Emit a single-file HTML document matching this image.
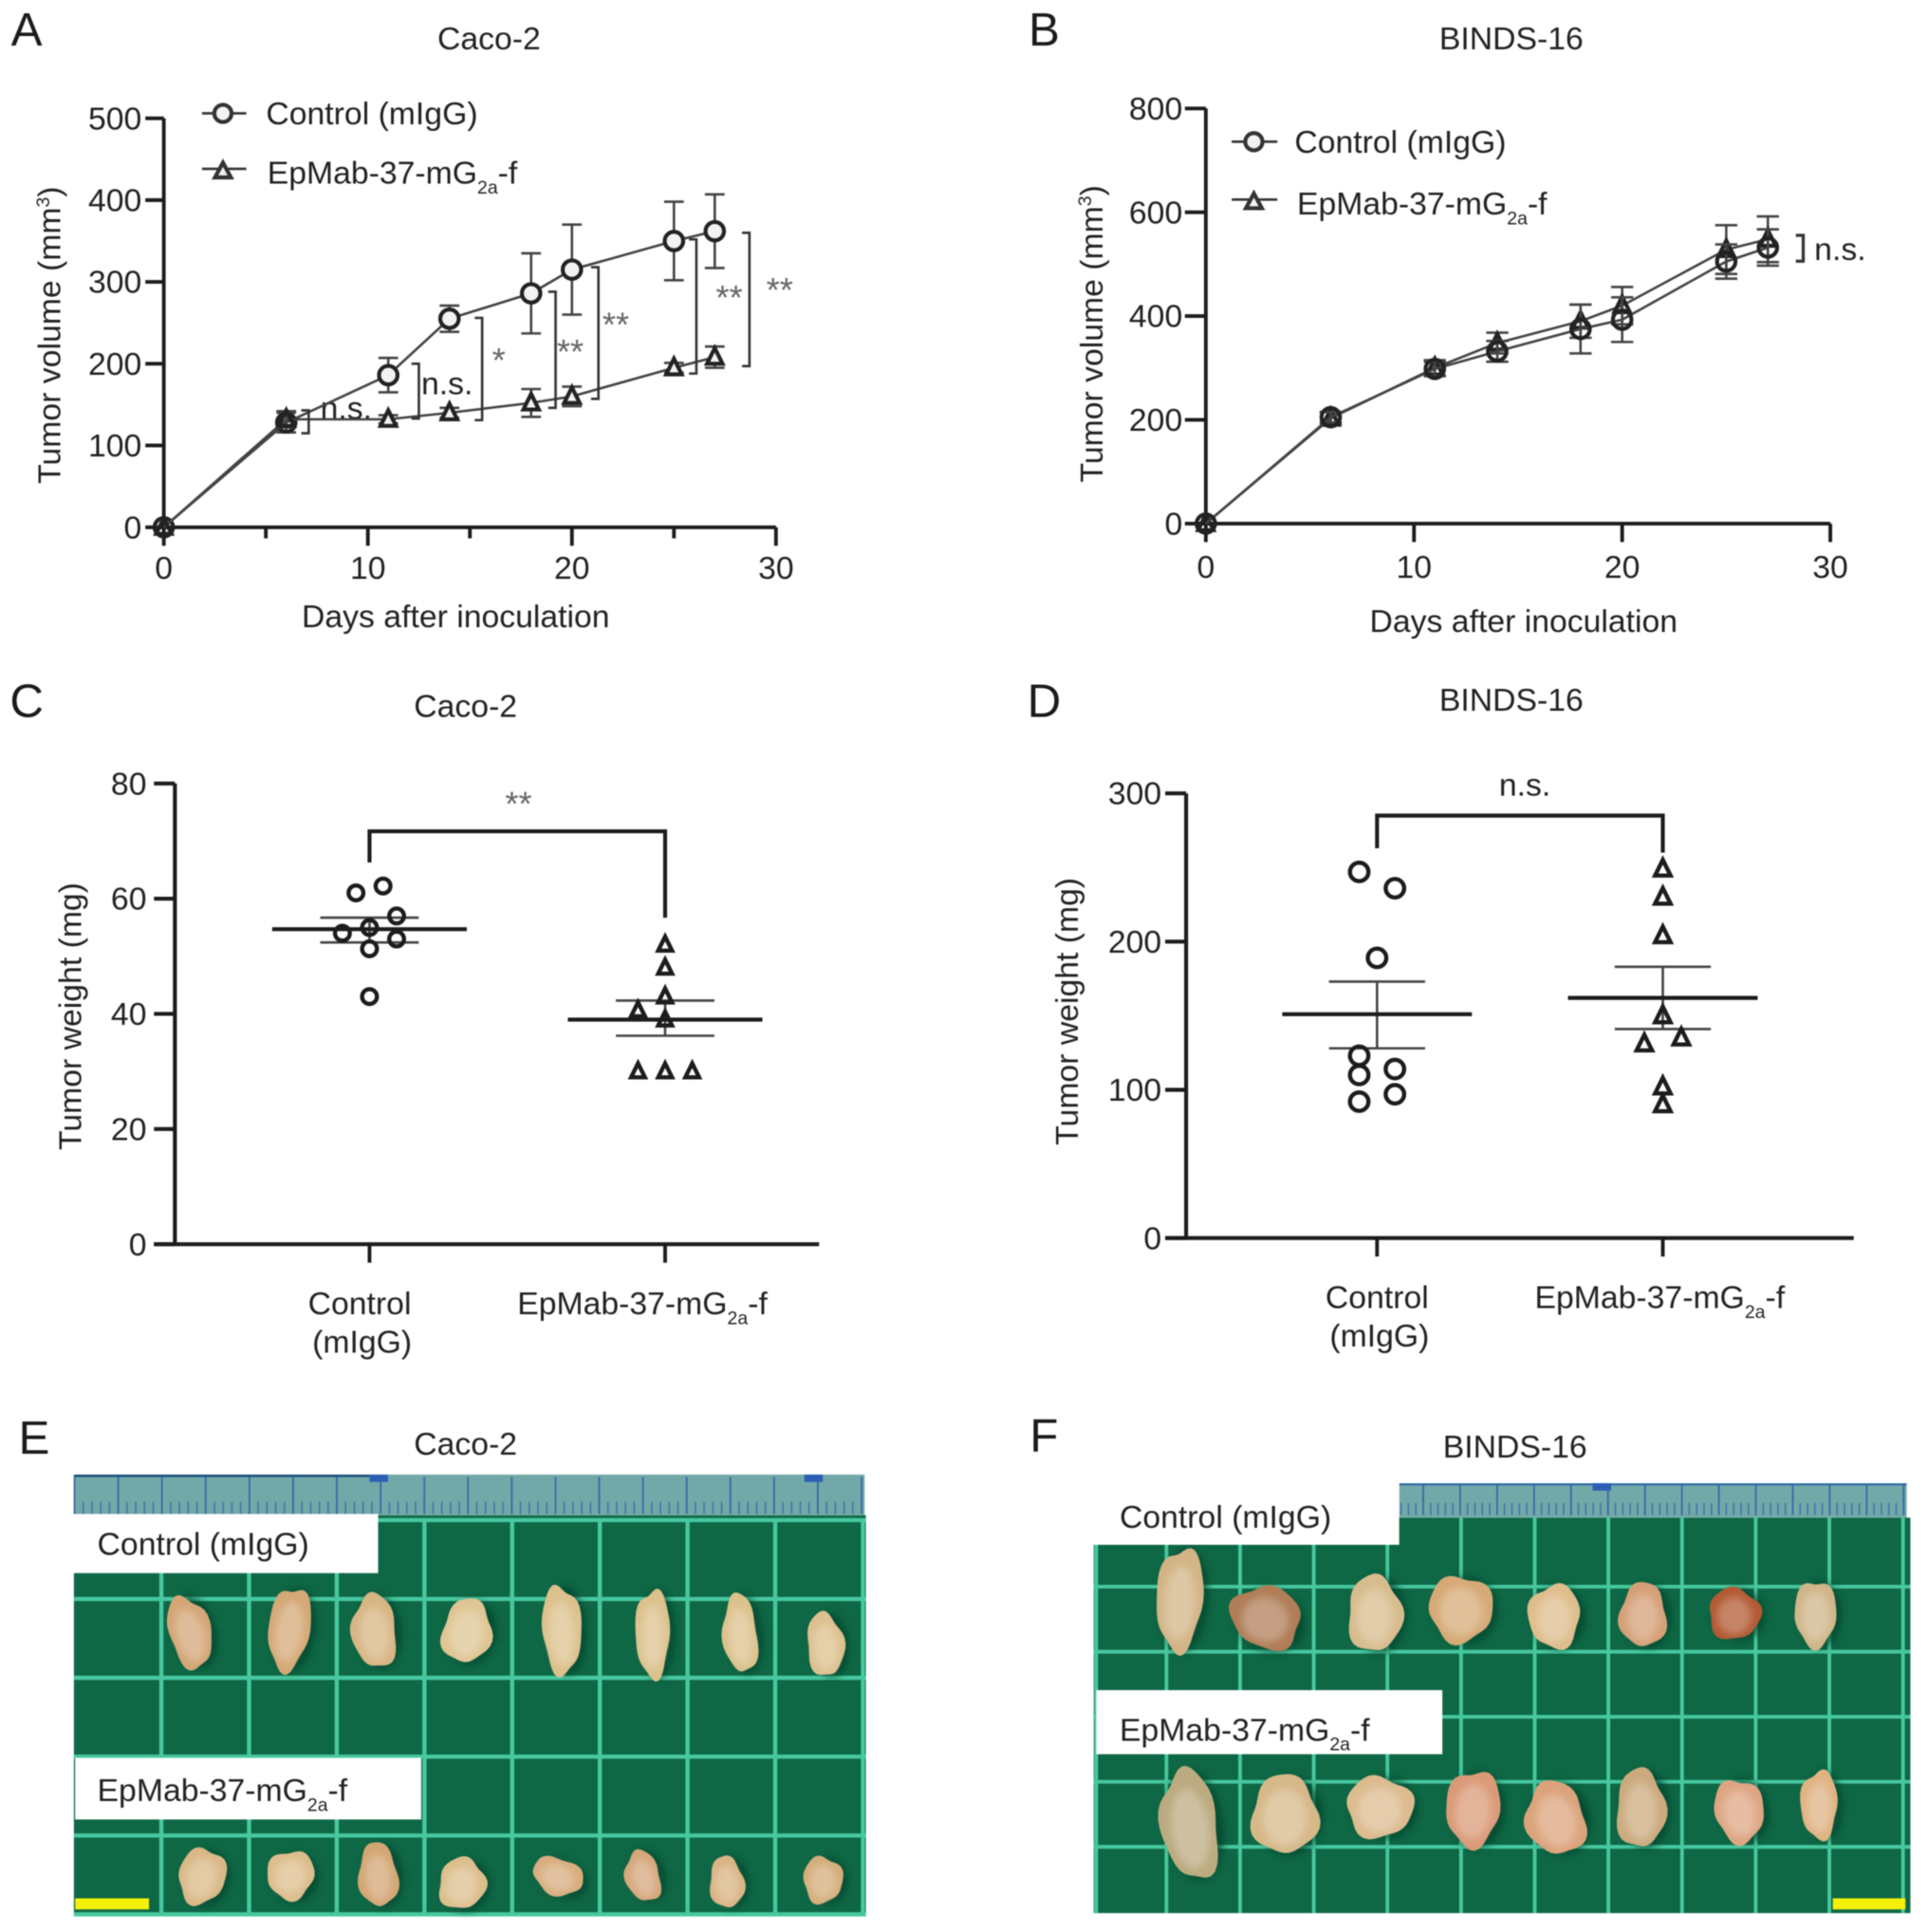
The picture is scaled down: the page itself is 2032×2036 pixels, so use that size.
<!DOCTYPE html>
<html lang="en">
<head>
<meta charset="utf-8">
<title>Tumor volume and weight figure</title>
<style>
html,body{margin:0;padding:0;background:#fff;}
svg{display:block;filter:blur(0.6px);}
text{font-family:"Liberation Sans",sans-serif;font-size:26px;fill:#222;}
.letter{font-size:38px;fill:#1a1a1a;}
.star{font-size:28px;fill:#666;text-anchor:middle;}
.mid{text-anchor:middle;}
</style>
</head>
<body>
<svg id="figure" xmlns="http://www.w3.org/2000/svg" width="2032" height="2036" viewBox="0 0 1565.3 1568.3">
<defs><filter id="soft" x="-50%" y="-50%" width="200%" height="200%"><feGaussianBlur stdDeviation="3"/></filter></defs>
<rect width="1566" height="1569" fill="#fff"/>

<g id="panel-a">
  <text class="letter" x="9" y="37">A</text>
  <text class="mid" x="397" y="40">Caco-2</text>
  <text class="mid" transform="rotate(-90 49 272)" x="49" y="272">Tumor volume (mm<tspan font-size="15" dy="-9">3</tspan><tspan dy="9">)</tspan></text>
  <text class="mid" x="370" y="509">Days after inoculation</text>
  <g fill="none" stroke="#333">
    <path d="M164 92H200" stroke-width="2"/>
    <circle cx="181" cy="92" r="7" stroke-width="3.2" fill="#f2f2f2"/>
    <path d="M164 137H200" stroke-width="2"/>
    <path d="M181 132L187.500 144H174.500Z" stroke-width="3.2" fill="#f2f2f2"/>
  </g>
  <text x="216" y="101">Control (mIgG)</text>
  <text x="217" y="149">EpMab-37-mG<tspan font-size="15" dy="8">2a</tspan><tspan dy="-8">-f</tspan></text>
  <text class="mid" x="281" y="340">n.s.</text>
  <text class="mid" x="363" y="320">n.s.</text>
  <text class="star" x="405" y="302">*</text>
  <text class="star" x="463" y="295">**</text>
  <text class="star" x="500" y="273">**</text>
  <text class="star" x="592" y="251">**</text>
  <text class="star" x="633" y="245">**</text>
</g>

<g id="panel-b">
  <text class="letter" x="835" y="37">B</text>
  <text class="mid" x="1227" y="40">BINDS-16</text>
  <text class="mid" transform="rotate(-90 895 271)" x="895" y="271">Tumor volume (mm<tspan font-size="15" dy="-9">3</tspan><tspan dy="9">)</tspan></text>
  <text class="mid" x="1237" y="513">Days after inoculation</text>
  <g fill="none" stroke="#333">
    <path d="M1000 115H1037" stroke-width="2"/>
    <circle cx="1018" cy="115" r="7" stroke-width="3.2" fill="#f2f2f2"/>
    <path d="M1000 162H1037" stroke-width="2"/>
    <path d="M1018 157L1024.500 169H1011.500Z" stroke-width="3.2" fill="#f2f2f2"/>
  </g>
  <text x="1051" y="124">Control (mIgG)</text>
  <text x="1053" y="174">EpMab-37-mG<tspan font-size="15" dy="8">2a</tspan><tspan dy="-8">-f</tspan></text>
  <path d="M1458 191H1464V212H1458" fill="none" stroke="#333" stroke-width="2.5"/>
  <text x="1473" y="211">n.s.</text>
</g>

<g id="panel-c">
  <text class="letter" x="8" y="582">C</text>
  <text class="mid" x="378" y="582">Caco-2</text>
  <text class="mid" transform="rotate(-90 66 825)" x="66" y="825">Tumor weight (mg)</text>
  <text class="star" x="421" y="662">**</text>
  <text class="mid" x="292" y="1067">Control</text>
  <text class="mid" x="294" y="1098">(mIgG)</text>
  <text x="420" y="1067">EpMab-37-mG<tspan font-size="15" dy="8">2a</tspan><tspan dy="-8">-f</tspan></text>
</g>

<g id="panel-d">
  <text class="letter" x="834" y="582">D</text>
  <text class="mid" x="1227" y="577">BINDS-16</text>
  <text class="mid" transform="rotate(-90 875 821)" x="875" y="821">Tumor weight (mg)</text>
  <text class="mid" x="1238" y="646">n.s.</text>
  <text class="mid" x="1118" y="1062">Control</text>
  <text class="mid" x="1120" y="1093">(mIgG)</text>
  <text x="1246" y="1062">EpMab-37-mG<tspan font-size="15" dy="8">2a</tspan><tspan dy="-8">-f</tspan></text>
</g>

<g id="panel-e">
  <text class="letter" x="15" y="1180">E</text>
  <text class="mid" x="378" y="1181">Caco-2</text>
  <rect x="60" y="1230" width="643" height="325" fill="#0e6745"/>
  <rect x="60" y="1197" width="642" height="33" fill="#72a9a8"/>
  <path d="M60 1198H300" stroke="#1d4f7a" stroke-width="2"/>
  <rect x="300" y="1197" width="15" height="6" fill="#2a5fb5"/>
  <rect x="653" y="1197" width="15" height="6" fill="#2a5fb5"/>
  <g id="grid-e" stroke="#47c8a0" stroke-width="3.4" fill="none"></g>
  <g id="ruler-e" stroke="#2f63a8" stroke-width="1.4" fill="none"></g>
  <g id="tumors-e"></g>
  <rect x="58" y="1229" width="249" height="48" fill="#fff"/>
  <text x="79" y="1262">Control (mIgG)</text>
  <rect x="61" y="1427" width="281" height="50" fill="#fff"/>
  <text x="79" y="1462">EpMab-37-mG<tspan font-size="15" dy="8">2a</tspan><tspan dy="-8">-f</tspan></text>
  <rect x="61" y="1541" width="60" height="9" fill="#f4f00a"/>
</g>

<g id="panel-f">
  <text class="letter" x="836" y="1178">F</text>
  <text class="mid" x="1230" y="1183">BINDS-16</text>
  <rect x="888" y="1232" width="663" height="321" fill="#0e6745"/>
  <rect x="1136" y="1204" width="412" height="28" fill="#72a9a8"/>
  <path d="M1136 1205H1548" stroke="#2f63a8" stroke-width="1.5"/>
  <rect x="1293" y="1204" width="15" height="6" fill="#2a5fb5"/>
  <g id="grid-f" stroke="#47c8a0" stroke-width="3" fill="none"></g>
  <g id="ruler-f" stroke="#2f63a8" stroke-width="1.4" fill="none"></g>
  <g id="tumors-f"></g>
  <rect x="886" y="1202" width="250" height="52" fill="#fff"/>
  <text x="909" y="1240">Control (mIgG)</text>
  <rect x="890" y="1372" width="281" height="52" fill="#fff"/>
  <text x="909" y="1413">EpMab-37-mG<tspan font-size="15" dy="8">2a</tspan><tspan dy="-8">-f</tspan></text>
  <rect x="1488" y="1541" width="59" height="9" fill="#f4f00a"/>
</g>
</svg>

<script>
// ---- Chart data ----
const days = [0, 6, 11, 14, 18, 20, 25, 27];
const dayTicks = [0, 5, 10, 15, 20, 25, 30];
const dayTickLabels = ['0', '', '10', '', '20', '', '30'];
const dayTicksB = [0, 10, 20, 30];

const caco2VolumeTicks = [0, 100, 200, 300, 400, 500];
const caco2ControlVolume = [0, 128, 186, 255, 286, 315, 350, 362];
const caco2ControlSem = [0, 12, 21, 16, 49, 55, 48, 45];
const caco2TreatedVolume = [0, 132, 132, 140, 152, 160, 195, 208];
const caco2TreatedSem = [0, 10, 5, 6, 17, 12, 6, 13];
const caco2BracketDays = [7.1, 12.5, 15.6, 19.2, 21.3, 26.1, 28.7];
const caco2BracketTop = [143, 200, 256, 288, 318, 352, 360];
const caco2BracketBottom = [115, 133, 131, 146, 157, 188, 197];

const binds16VolumeTicks = [0, 200, 400, 600, 800];
const binds16ControlVolume = [0, 205, 298, 332, 375, 393, 505, 532];
const binds16ControlSem = [0, 10, 14, 20, 47, 43, 33, 35];
const binds16TreatedVolume = [0, 203, 300, 348, 390, 420, 528, 548];
const binds16TreatedSem = [0, 12, 15, 20, 32, 36, 47, 44];

const caco2WeightTicks = [0, 20, 40, 60, 80];
const caco2ControlWeight = [61, 62.2, 57, 54, 55, 53, 51.3, 43];
const caco2ControlSlots = [-1, 1, 2, -2, 0, 2, 0, 0];
const caco2ControlStats = [54.7, 52.4, 56.7];
const caco2TreatedWeight = [52, 48, 43, 40.6, 39, 30, 30, 30];
const caco2TreatedSlots = [0, 0, 0, -2, 0, -2, 0, 2];
const caco2TreatedStats = [39, 36.2, 42.3];

const binds16WeightTicks = [0, 100, 200, 300];
const binds16ControlWeight = [247, 236, 189, 123, 110, 114, 92, 97];
const binds16ControlSlots = [-1, 1, 0, -1, -1, 1, -1, 1];
const binds16ControlStats = [151, 128, 173];
const binds16TreatedWeight = [249, 230, 204, 150, 131, 135, 102, 90];
const binds16TreatedSlots = [0, 0, 0, 0, -1, 1, 0, 0];
const binds16TreatedStats = [162, 141, 183];

// ---- Helpers ----
const NS = 'http://www.w3.org/2000/svg';
function make(tag, attrs, parent) {
  const el = document.createElementNS(NS, tag);
  for (const k in attrs) el.setAttribute(k, attrs[k]);
  parent.appendChild(el);
  return el;
}
function linear(d0, d1, r0, r1) {
  return function (v) { return r0 + (v - d0) * (r1 - r0) / (d1 - d0); };
}
function trianglePath(x, y, s) {
  const hw = s * 0.85;
  return 'M' + x + ' ' + (y - s) + 'L' + (x + hw) + ' ' + (y + s * 0.72) + 'H' + (x - hw) + 'Z';
}

function drawYAxis(parent, x, y, ticks, tickStart, labelX, top, bottom, width) {
  const axis = make('path', { d: 'M' + x + ' ' + top + 'V' + bottom, stroke: '#1c1c1c', 'stroke-width': width, fill: 'none' }, parent);
  
  
  ticks.forEach(function (t) {
    const tick = make('path', { d: 'M' + tickStart + ' ' + y(t) + 'H' + x, stroke: '#1c1c1c', 'stroke-width': width, fill: 'none' }, parent);
    
    
    const label = make('text', { x: labelX, y: y(t) + 9, 'text-anchor': 'end' }, parent);
    label.textContent = String(t);
    
    
  });
}

function drawSeries(parent, x, y, s, overlapLimit, cap) {
  const values = s.values, sem = s.sem, name = s.name;
  const d = days.map(function (day, i) { return (i ? 'L' : 'M') + x(day) + ' ' + y(values[i]); }).join('');
  const line = make('path', { d: d, fill: 'none', stroke: '#444', 'stroke-width': 2 }, parent);
  
  
  days.forEach(function (day, i) {
    const px = x(day), hi = y(values[i] + sem[i]), lo = y(values[i] - sem[i]), py = y(values[i]);
    if (sem[i] > 0) {
      const err = make('path', {
        d: 'M' + px + ' ' + hi + 'V' + lo + 'M' + (px - cap) + ' ' + hi + 'H' + (px + cap) + 'M' + (px - cap) + ' ' + lo + 'H' + (px + cap),
        fill: 'none', stroke: '#444', 'stroke-width': 2
      }, parent);
      
      
    }
    const fill = Math.abs(values[i] - s.other[i]) < overlapLimit ? 'none' : '#f2f2f2';
    const mark = s.marker === 'circle'
      ? make('circle', { cx: px, cy: py, r: 7.5, fill: fill, stroke: '#222', 'stroke-width': 3.2 }, parent)
      : make('path', { d: trianglePath(px, py, 7.4), fill: fill, stroke: '#222', 'stroke-width': 3.2 }, parent);
    
    
  });
}

function drawLineChart(panelId, x, y, xTicks, xLabelled, yTicks, yTickStart, yLabelX, top, bottom, right, series, cap, overlapLimit, labelDrop) {
  const g = document.getElementById(panelId);
  const left = x(0);
  drawYAxis(g, left, y, yTicks, yTickStart, yLabelX, top, bottom, 3);
  const xAxis = make('path', { d: 'M' + left + ' ' + bottom + 'H' + right, stroke: '#1c1c1c', 'stroke-width': 3, fill: 'none' }, g);
  
  
  xTicks.forEach(function (t, i) {
    const major = xLabelled[i] !== '';
    const tick = make('path', { d: 'M' + x(t) + ' ' + bottom + 'v' + (major ? 15 : 9), stroke: '#1c1c1c', 'stroke-width': 3, fill: 'none' }, g);
    
    
    if (major) {
      const label = make('text', { x: x(t), y: bottom + labelDrop, 'text-anchor': 'middle' }, g);
      label.textContent = xLabelled[i];
      
      
    }
  });
  series.forEach(function (s) {
    drawSeries(g, x, y, s, overlapLimit, cap);
  });
}

function drawScatterGroup(g, cx, y, values, slots, stats, marker, slotWidth, size, meanHalf, capHalf, name) {
  const lo = y(stats[1]), hi = y(stats[2]);
  const err = make('path', {
    d: 'M' + cx + ' ' + lo + 'V' + hi + 'M' + (cx - capHalf) + ' ' + lo + 'H' + (cx + capHalf) + 'M' + (cx - capHalf) + ' ' + hi + 'H' + (cx + capHalf),
    stroke: '#444', 'stroke-width': 2, fill: 'none'
  }, g);
  
  
  values.forEach(function (v, i) {
    const px = cx + slots[i] * slotWidth, py = y(v);
    const mark = marker === 'circle'
      ? make('circle', { cx: px, cy: py, r: size, fill: 'none', stroke: '#1c1c1c', 'stroke-width': 3.4 }, g)
      : make('path', { d: trianglePath(px, py, size), fill: 'none', stroke: '#1c1c1c', 'stroke-width': 3.4 }, g);
    
    
  });
  const mean = make('path', { d: 'M' + (cx - meanHalf) + ' ' + y(stats[0]) + 'H' + (cx + meanHalf), stroke: '#1c1c1c', 'stroke-width': 3.2, fill: 'none' }, g);
  
  
}

function drawCategoryAxis(g, bottom, left, right, categoryX) {
  const axis = make('path', { d: 'M' + left + ' ' + bottom + 'H' + right, stroke: '#1c1c1c', 'stroke-width': 3.2, fill: 'none' }, g);
  
  
  categoryX.forEach(function (cx) {
    const tick = make('path', { d: 'M' + cx + ' ' + bottom + 'v15', stroke: '#1c1c1c', 'stroke-width': 3, fill: 'none' }, g);
    
    
  });
}

function drawComparison(g, x1, x2, yTop, yLeft, yRight) {
  const b = make('path', { d: 'M' + x1 + ' ' + yLeft + 'V' + yTop + 'H' + x2 + 'V' + yRight, stroke: '#1c1c1c', 'stroke-width': 3.2, fill: 'none' }, g);
  
  
}

// ---- Panel A ----
const xA = linear(0, 30, 133, 630);
const yA = linear(0, 500, 428, 96);
drawLineChart('panel-a', xA, yA, dayTicks, dayTickLabels, caco2VolumeTicks, 118, 115, 96, 428, 630, [
  { values: caco2ControlVolume, other: caco2TreatedVolume, sem: caco2ControlSem, marker: 'circle', name: 'control' },
  { values: caco2TreatedVolume, other: caco2ControlVolume, sem: caco2TreatedSem, marker: 'triangle', name: 'treated' }
], 8, 10, 42);
caco2BracketDays.forEach(function (day, i) {
  const px = xA(day);
  const bracket = make('path', {
    d: 'M' + (px - 6) + ' ' + yA(caco2BracketTop[i]) + 'H' + px + 'V' + yA(caco2BracketBottom[i]) + 'H' + (px - 6),
    fill: 'none', stroke: '#333', 'stroke-width': 2
  }, document.getElementById('panel-a'));
  
  
});

// ---- Panel B ----
const xB = linear(0, 30, 979, 1486);
const yB = linear(0, 800, 425, 88);
drawLineChart('panel-b', xB, yB, dayTicksB, dayTicksB.map(String), binds16VolumeTicks, 962, 960, 88, 425, 1486, [
  { values: binds16TreatedVolume, other: binds16ControlVolume, sem: binds16TreatedSem, marker: 'triangle', name: 'treated' },
  { values: binds16ControlVolume, other: binds16TreatedVolume, sem: binds16ControlSem, marker: 'circle', name: 'control' }
], 9, 100, 44);

// ---- Panel C ----
const gC = document.getElementById('panel-c');
const yC = linear(0, 80, 1010, 636);
drawYAxis(gC, 142, yC, caco2WeightTicks, 125, 119, 636, 1010, 3.2);
drawCategoryAxis(gC, 1010, 125, 665, [300, 540]);
drawScatterGroup(gC, 300, yC, caco2ControlWeight, caco2ControlSlots, caco2ControlStats, 'circle', 11, 6, 79, 40, 'control');
drawScatterGroup(gC, 540, yC, caco2TreatedWeight, caco2TreatedSlots, caco2TreatedStats, 'triangle', 11, 6.6, 79, 40, 'treated');
drawComparison(gC, 300, 540, yC(71.7), yC(66.3), yC(56.7));

// ---- Panel D ----
const gD = document.getElementById('panel-d');
const yD = linear(0, 300, 1005, 644);
drawYAxis(gD, 963, yD, binds16WeightTicks, 946, 943, 644, 1005, 3.2);
drawCategoryAxis(gD, 1005, 946, 1505, [1118, 1350]);
drawScatterGroup(gD, 1118, yD, binds16ControlWeight, binds16ControlSlots, binds16ControlStats, 'circle', 14.5, 7.5, 77, 39, 'control');
drawScatterGroup(gD, 1350, yD, binds16TreatedWeight, binds16TreatedSlots, binds16TreatedStats, 'triangle', 15, 7.4, 77, 39, 'treated');
drawComparison(gD, 1118, 1350, yD(285), yD(263), yD(260));

// ---- Photo panels ----
function drawMatGrid(id, xStart, xStep, xCount, xTop, xBottom, yStart, yStep, yCount, yLeft, yRight) {
  const g = document.getElementById(id);
  for (let i = 0; i < xCount; i++) {
    const px = xStart + i * xStep;
    const v = make('path', { d: 'M' + px + ' ' + xTop + 'V' + xBottom }, g);
    
    
  }
  for (let j = 0; j < yCount; j++) {
    const py = yStart + j * yStep;
    const h = make('path', { d: 'M' + yLeft + ' ' + py + 'H' + yRight }, g);
    
    
  }
}
function drawRuler(id, xStart, xEnd, minorStep, yTop, yBottom, markEvery) {
  const g = document.getElementById(id);
  let n = 0;
  for (let px = xStart; px <= xEnd; px += minorStep, n++) {
    const major = n % markEvery === 0;
    const t = make('path', { d: 'M' + px + ' ' + (major ? yTop : yBottom - 10) + 'V' + yBottom, 'stroke-opacity': major ? 0.9 : 0.65 }, g);
    
    
  }
}
function lighten(hex, amount) {
  const n = parseInt(hex.slice(1), 16);
  const mix = function (c) { return Math.round(c + (255 - c) * amount); };
  return 'rgb(' + mix(n >> 16) + ',' + mix((n >> 8) & 255) + ',' + mix(n & 255) + ')';
}
let tumorIndex = 0;
function tumor(panel, cx, cy, rx, ry, rot, color) {
  const g = make('g', { transform: 'rotate(' + rot + ' ' + cx + ' ' + cy + ')' }, document.getElementById(panel));
  
  
  tumorIndex += 1;
  const p = tumorIndex * 1.7;
  const pts = [];
  for (let i = 0; i < 40; i++) {
    const th = i / 40 * Math.PI * 2;
    const r = 1 + 0.07 * Math.sin(3 * th + p) + 0.05 * Math.sin(5 * th + 2 * p);
    pts.push((cx + rx * r * Math.cos(th)).toFixed(1) + ',' + (cy + ry * r * Math.sin(th)).toFixed(1));
  }
  make('ellipse', { cx: cx + 4, cy: cy + 1, rx: rx, ry: ry, fill: '#093f2a', 'fill-opacity': 0.7, filter: 'url(#soft)' }, g);
  make('polygon', { points: pts.join(' '), fill: color }, g);
  make('ellipse', { cx: cx, cy: cy + ry * 0.08, rx: rx * 0.66, ry: ry * 0.72, fill: lighten(color, 0.32), 'fill-opacity': 0.8, filter: 'url(#soft)' }, g);
}

drawMatGrid('grid-e', 131, 71.2, 9, 1233, 1555, 1234, 64, 6, 60, 703);
drawRuler('ruler-e', 60.5, 702, 7.1, 1199, 1229, 5);
drawMatGrid('grid-f', 947, 59.8, 11, 1232, 1553, 1288, 52.8, 5, 888, 1551);
drawRuler('ruler-f', 1125.5, 1548, 6, 1205, 1230, 5);
const edgeF = make('path', { d: 'M890 1232V1553' }, document.getElementById('grid-f'));



tumor('tumors-e', 154, 1325, 17, 30, -15, '#d3a676');
tumor('tumors-e', 235, 1322, 17, 34, 8, '#d5a877');
tumor('tumors-e', 304, 1324, 18, 30, -5, '#d8b584');
tumor('tumors-e', 379, 1324, 20, 26, 10, '#dfc593');
tumor('tumors-e', 456, 1323, 16, 36, -3, '#dcc18c');
tumor('tumors-e', 530, 1326, 14, 36, 0, '#dcc18c');
tumor('tumors-e', 601, 1326, 14, 32, -5, '#dcc18c');
tumor('tumors-e', 670, 1335, 15, 26, -5, '#dcc08e');
tumor('tumors-e', 164, 1523, 19, 23, 15, '#d9b886');
tumor('tumors-e', 236, 1522, 19, 20, 20, '#dcbd8b');
tumor('tumors-e', 307, 1522, 16, 26, -5, '#d3a573');
tumor('tumors-e', 375, 1529, 19, 21, 15, '#dcbe8c');
tumor('tumors-e', 453, 1523, 21, 15, 20, '#d8ac7d');
tumor('tumors-e', 522, 1523, 14, 21, -15, '#d5a67a');
tumor('tumors-e', 590, 1528, 14, 21, -5, '#d9b484');
tumor('tumors-e', 668, 1526, 16, 19, 0, '#d4ad7a');

tumor('tumors-f', 958, 1298, 19, 42, 4, '#d2b486');
tumor('tumors-f', 1028, 1313, 29, 25, 25, '#b07d57');
tumor('tumors-f', 1116, 1310, 22, 31, 0, '#d7bc8d');
tumor('tumors-f', 1186, 1306, 26, 27, 0, '#d6aa76');
tumor('tumors-f', 1262, 1312, 21, 26, 0, '#dfbd8c');
tumor('tumors-f', 1334, 1311, 19, 26, 0, '#d5a077');
tumor('tumors-f', 1408, 1310, 21, 21, 0, '#b25a33');
tumor('tumors-f', 1474, 1310, 17, 27, 0, '#d0b589');
tumor('tumors-f', 966, 1481, 23, 45, -8, '#bcab80');
tumor('tumors-f', 1043, 1473, 27, 32, 0, '#d6b889');
tumor('tumors-f', 1120, 1467, 27, 25, 0, '#dcbb8f');
tumor('tumors-f', 1196, 1468, 22, 31, 5, '#da9a78');
tumor('tumors-f', 1263, 1476, 24, 30, -15, '#dba37b');
tumor('tumors-f', 1332, 1468, 20, 32, 0, '#cbaa7e');
tumor('tumors-f', 1412, 1470, 20, 26, -10, '#dea583');
tumor('tumors-f', 1477, 1465, 15, 28, 0, '#dfb382');
</script>
</body>
</html>
